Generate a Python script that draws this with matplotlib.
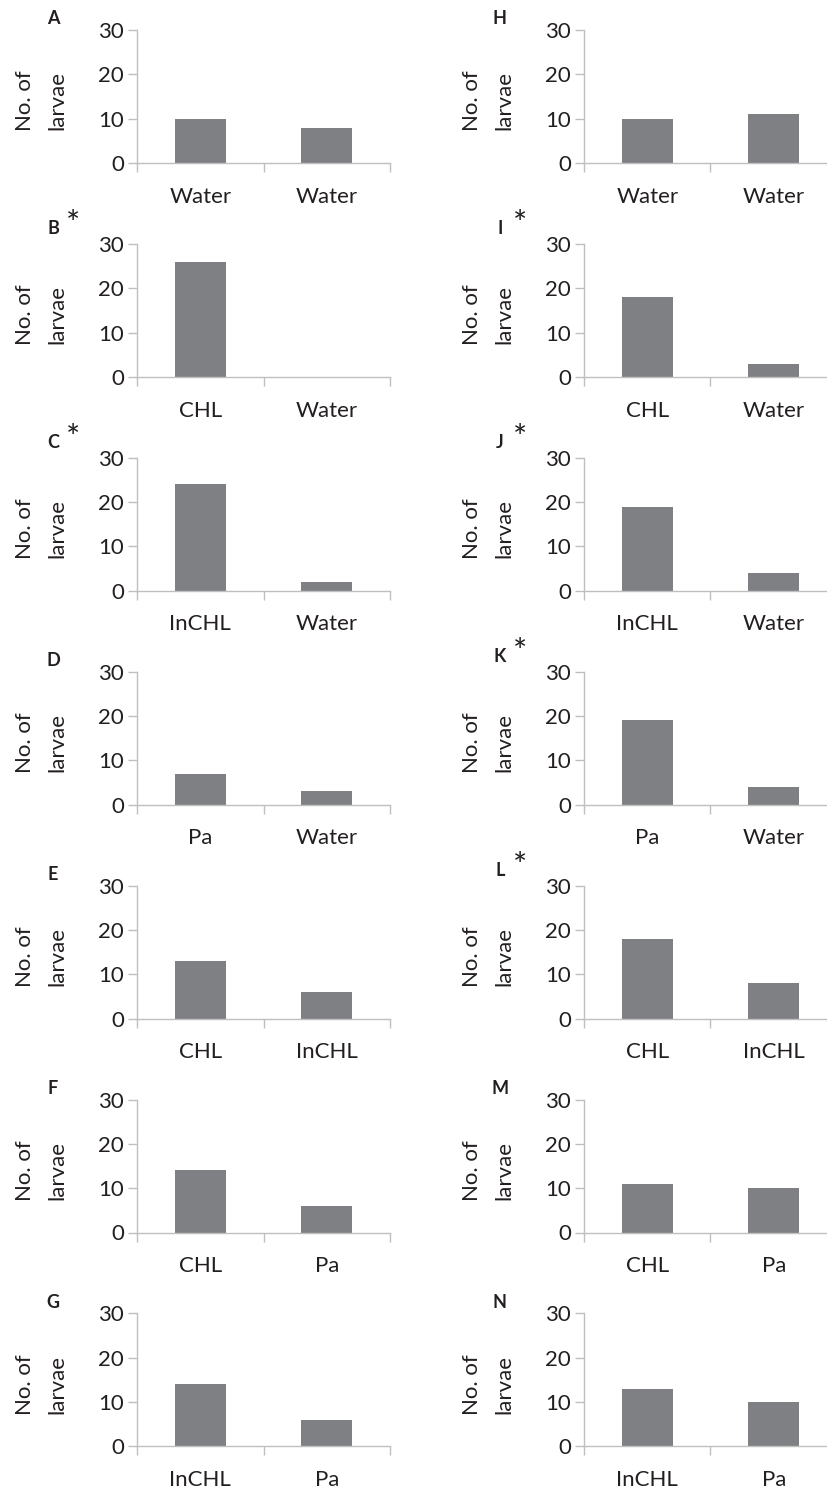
import numpy as np
import matplotlib
matplotlib.use('Agg')
import matplotlib.pyplot as plt

plt.rcParams['font.family'] = ['Lato', 'DejaVu Sans']

# panel data -------------------------------------------------
letters_left = ['A', 'B', 'C', 'D', 'E', 'F', 'G']
letters_right = ['H', 'I', 'J', 'K', 'L', 'M', 'N']
starred = ['B', 'C', 'I', 'J', 'K', 'L']

cats = [
  ['Water', 'Water'],
  ['CHL', 'Water'],
  ['InCHL', 'Water'],
  ['Pa', 'Water'],
  ['CHL', 'InCHL'],
  ['CHL', 'Pa'],
  ['InCHL', 'Pa'],
]

vals_left = [
  [10, 8],
  [26, 0],
  [24, 2],
  [7, 3],
  [13, 6],
  [14, 6],
  [14, 6],
]
vals_right = [
  [10, 11],
  [18, 3],
  [19, 4],
  [19, 4],
  [18, 8],
  [11, 10],
  [13, 10],
]

yticks = [0, 10, 20, 30]

# layout in pixels -------------------------------------------
W, H = 828, 1490
fig = plt.figure(figsize=(W / 100, H / 100), dpi=100)

ax_w = 253
ax_h = 133
col_x = [137, 584]
top0 = 30
step = 213.9
fs = 16

txt = '#231f20'
bar_c = '#7f8084'
line_c = '#bfbfbf'


def panel(x0, ytop, letter, labels, vals):
  ax = fig.add_axes([x0 / W, 1 - (ytop + ax_h) / H, ax_w / W, ax_h / H])
  pos = np.arange(len(vals))
  ax.bar(pos, vals, width=0.4, color=bar_c, edgecolor='none')
  ax.set_xlim(-0.5, len(vals) - 0.5)
  ax.set_ylim(0, 30)
  ax.set_yticks(yticks)
  ax.set_xticks(pos)
  ax.set_xticklabels(labels)
  ax.set_xticks(np.arange(len(vals) + 1) - 0.5, minor=True)
  for s in ['top', 'right']:
    ax.spines[s].set_visible(False)
  for s in ['left', 'bottom']:
    ax.spines[s].set_color(line_c)
    ax.spines[s].set_linewidth(1.0)
  ax.tick_params(axis='y', length=6.5, width=1.0, color=line_c, pad=3,
                 labelsize=fs, labelcolor=txt)
  ax.tick_params(axis='x', which='major', length=0, pad=17,
                 labelsize=fs, labelcolor=txt)
  ax.tick_params(axis='x', which='minor', length=6.5, width=1.0, color=line_c)
  # y label, two lines
  fig.text((x0 - 112) / W, 1 - (ytop + 71) / H, 'No. of', fontsize=fs,
           color=txt, rotation=90, ha='center', va='center')
  fig.text((x0 - 80) / W, 1 - (ytop + 71) / H, 'larvae', fontsize=fs,
           color=txt, rotation=90, ha='center', va='center')
  # panel letter
  star = letter in starred
  lx = (x0 - 84) / W
  ly = 1 - (ytop - (15 if star else 11)) / H
  fig.text(lx, ly, letter, fontsize=13, fontweight='bold', color=txt,
           ha='center', va='center')
  if star:
    fig.text(lx + 20 / W, ly + 4 / H, '*', fontsize=24, color=txt,
             ha='center', va='center')
  return ax


for i in range(7):
  ytop = top0 + i * step
  panel(col_x[0], ytop, letters_left[i], cats[i], vals_left[i])
  panel(col_x[1], ytop, letters_right[i], cats[i], vals_right[i])

fig.savefig('out.png', dpi=100)
